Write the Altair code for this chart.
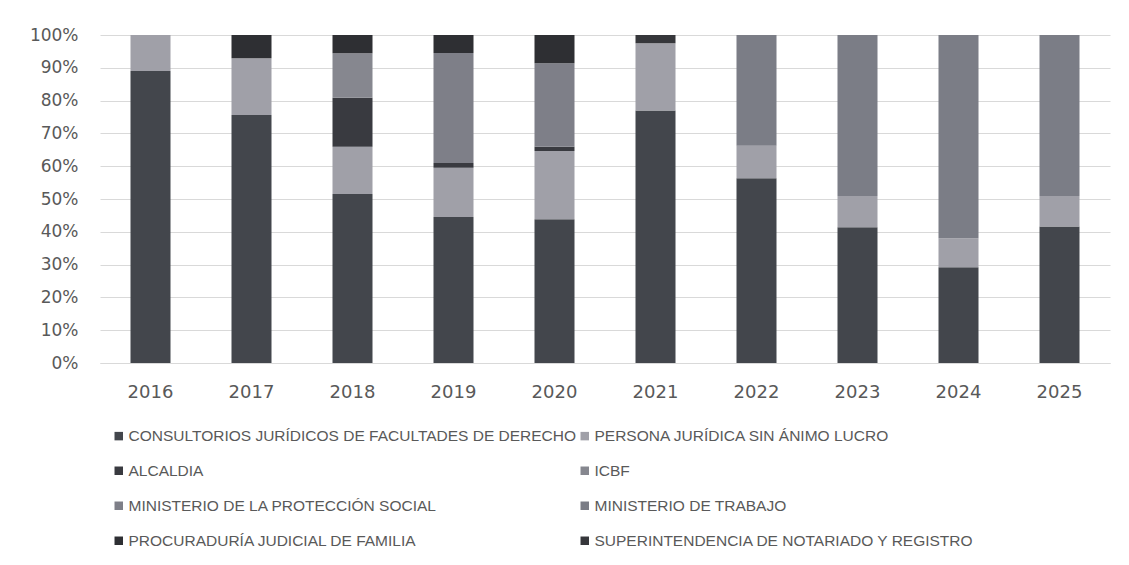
import altair as alt
import pandas as pd

years = ["2016", "2017", "2018", "2019", "2020", "2021", "2022", "2023", "2024", "2025"]

categories = [
    "CONSULTORIOS JURÍDICOS DE FACULTADES DE DERECHO",
    "PERSONA JURÍDICA SIN ÁNIMO LUCRO",
    "ALCALDIA",
    "ICBF",
    "MINISTERIO DE LA PROTECCIÓN SOCIAL",
    "MINISTERIO DE TRABAJO",
    "PROCURADURÍA JUDICIAL DE FAMILIA",
    "SUPERINTENDENCIA DE NOTARIADO Y REGISTRO",
]

consultorios = [89.0, 75.6, 51.5, 44.5, 43.8, 77.0, 56.3, 41.4, 29.2, 41.6]
persona = [11.0, 17.3, 14.4, 15.0, 20.8, 20.5, 9.9, 9.5, 8.8, 9.3]
alcaldia = [0, 0, 15.0, 1.5, 1.3, 0, 0, 0, 0, 0]
icbf = [0, 0, 13.5, 0, 0, 0, 0, 0, 0, 0]
min_proteccion = [0, 0, 0, 33.5, 25.5, 0, 0, 0, 0, 0]
min_trabajo = [0, 0, 0, 0, 0, 0, 33.8, 49.1, 62.0, 49.1]
procuraduria = [0, 7.1, 5.6, 5.5, 8.6, 0, 0, 0, 0, 0]
superintendencia = [0, 0, 0, 0, 0, 2.5, 0, 0, 0, 0]

colors = ["#43464c", "#a0a0a8", "#393a40", "#86878f", "#7e7f88", "#7b7d86", "#2e2f33", "#36373b"]

series = [consultorios, persona, alcaldia, icbf, min_proteccion, min_trabajo, procuraduria, superintendencia]
rows = []
for i, (cat, vals) in enumerate(zip(categories, series)):
    for y, v in zip(years, vals):
        rows.append({"year": y, "cat": cat, "value": v, "idx": i})
df = pd.DataFrame(rows)

# legend fills column by column: reorder so the reading order is row-wise
legend_order = categories[0::2] + categories[1::2]
legend_colors = [colors[categories.index(c)] for c in legend_order]

txt = "#595959"

chart = (
    alt.Chart(df)
    .mark_bar(size=40)
    .encode(
        x=alt.X("year:N", sort=years, title=None,
                axis=alt.Axis(labelAngle=0, labelFontSize=18, labelColor=txt, labelFont="DejaVu Sans",
                              labelPadding=20, ticks=False, domainColor="#d9d9d9", grid=False)),
        y=alt.Y("value:Q", stack="normalize", title=None,
                scale=alt.Scale(domain=[0, 1], nice=False),
                axis=alt.Axis(format="%", values=[i / 10 for i in range(11)], labelFontSize=17,
                              labelColor=txt, labelFont="DejaVu Sans", labelPadding=22,
                              ticks=False, domain=False, gridColor="#d9d9d9", gridWidth=1)),
        color=alt.Color("cat:N",
                        scale=alt.Scale(domain=legend_order, range=legend_colors),
                        legend=alt.Legend(title=None, orient="none", legendX=11, legendY=393,
                                          columns=2, symbolType="square", symbolSize=72,
                                          symbolStrokeWidth=0, labelFontSize=15.5, labelColor=txt,
                                          labelFont="Liberation Sans", labelLimit=600,
                                          rowPadding=18, columnPadding=0, labelOffset=2,
                                          padding=0)),
        order=alt.Order("idx:Q", sort="ascending"),
    )
    .properties(width=1010, height=328,
                autosize=alt.AutoSizeParams(type="none"),
                padding={"left": 92, "top": 27, "right": 10, "bottom": 192})
    .configure_view(stroke=None)
    .configure_scale(bandPaddingInner=0.6, bandPaddingOuter=0.3)
)

chart.save("out.html", embed_options={"renderer": "svg", "actions": False})
